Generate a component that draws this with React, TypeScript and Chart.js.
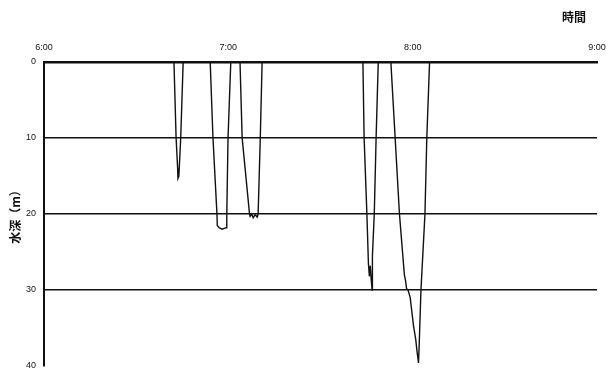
import React, { useEffect, useRef } from "react";
import { Chart, registerables } from "chart.js";

Chart.register(...registerables);

// minutes after 6:00
const timeMin = [
  0, 42.3, 43.0, 43.5, 43.6, 43.9, 44.5, 45.3,
  54.1, 55.0, 56.3, 56.4, 57.0, 58.0, 59.3, 59.5, 59.9, 60.8,
  63.8, 64.5, 66.9, 67.1, 67.6, 68.1, 68.7, 69.4, 69.7, 70.4, 71.0,
  103.8, 104.2, 105.1, 105.6, 105.9, 106.2, 106.5, 106.8, 106.9, 107.5, 108.1, 108.8,
  112.9, 114.3, 115.7, 117.3, 117.7, 118.0, 118.5, 119.2, 120.3, 121.0, 121.4, 121.9, 122.1, 122.7, 124.0, 124.6, 125.5,
  180,
];
// depth in metres
const depthM = [
  0, 0, 10, 14, 15.3, 15.0, 10, 0,
  0, 10, 20, 21.5, 21.8, 22.0, 21.8, 20, 10, 0,
  0, 10, 20, 20.3, 20.0, 20.5, 20.1, 20.4, 20, 10, 0,
  0, 10, 20, 26.5, 28.2, 26.8, 28.6, 30.0, 25.5, 20, 10, 0,
  0, 10, 20, 28, 28.8, 29.8, 30.0, 31.0, 34.8, 36.5, 38.0, 39.6, 37.5, 30, 20, 10, 0,
  0,
];

const timeLabels = ["6:00", "7:00", "8:00", "9:00"];
const depthTicks = [0, 10, 20, 30, 40];
const xTitle = "時間";
const yTitle = "水深（m）";

export default function App() {
  const ref = useRef<HTMLCanvasElement | null>(null);

  useEffect(() => {
    if (!ref.current) return;
    const points = timeMin.map((t, i) => ({ x: t, y: depthM[i] }));

    const titlePlugin = {
      id: "titles",
      afterDraw(chart: any) {
        const ctx = chart.ctx;
        ctx.save();
        ctx.fillStyle = "#111";
        ctx.font = "bold 12px 'Noto Sans CJK JP'";
        ctx.textAlign = "center";
        ctx.textBaseline = "middle";
        ctx.fillText(xTitle, 574, 17);
        ctx.translate(15, 214);
        ctx.rotate(-Math.PI / 2);
        ctx.fillText(yTitle, 0, 0);
        ctx.restore();
      },
    };

    const chart = new Chart(ref.current, {
      type: "line",
      data: {
        datasets: [
          {
            data: points,
            borderColor: "#111",
            borderWidth: 1.4,
            pointRadius: 0,
            tension: 0,
            fill: false,
          },
        ],
      },
      options: {
        animation: false,
        responsive: false,
        layout: { padding: { left: 6, right: 9, top: 20, bottom: 4 } },
        plugins: { legend: { display: false }, tooltip: { enabled: false } },
        scales: {
          x: {
            type: "linear",
            position: "top",
            min: 0,
            max: 180,
            afterFit: (s: any) => {
              s.height = 42;
              s.paddingLeft = 0;
              s.paddingRight = 0;
              s.paddingTop = 0;
              s.paddingBottom = 0;
            },
            afterBuildTicks: (s: any) => {
              s.ticks = timeLabels.map((_, i) => ({ value: i * 60 }));
            },
            ticks: {
              callback: (v: any) => timeLabels[Math.round(Number(v) / 60)],
              font: { size: 9, family: "'Liberation Sans'" },
              color: "#111",
              maxRotation: 0,
              padding: 9,
            },
            grid: { display: true, drawOnChartArea: false, drawTicks: false },
            border: { display: true, color: "#111", width: 2.5 },
          },
          y: {
            reverse: true,
            min: 0,
            max: 40,
            afterFit: (s: any) => {
              s.width = 38;
              s.paddingTop = 0;
              s.paddingBottom = 0;
              s.paddingLeft = 0;
              s.paddingRight = 0;
            },
            afterBuildTicks: (s: any) => {
              s.ticks = depthTicks.map((v) => ({ value: v }));
            },
            ticks: {
              font: { size: 9, family: "'Liberation Sans'" },
              color: "#111",
              padding: 8,
            },
            grid: {
              drawTicks: false,
              color: (c: any) =>
                c.tick && (c.tick.value === 40 || c.tick.value === 0) ? "rgba(0,0,0,0)" : "#111",
              lineWidth: 1.6,
            },
            border: { display: true, color: "#111", width: 2 },
          },
        },
      },
      plugins: [titlePlugin],
    } as any);

    return () => chart.destroy();
  }, []);

  return (
    <div style={{ position: "absolute", left: 0, top: 0, width: 606, height: 370, background: "#fff" }}>
      <canvas ref={ref} width={606} height={370} />
    </div>
  );
}
